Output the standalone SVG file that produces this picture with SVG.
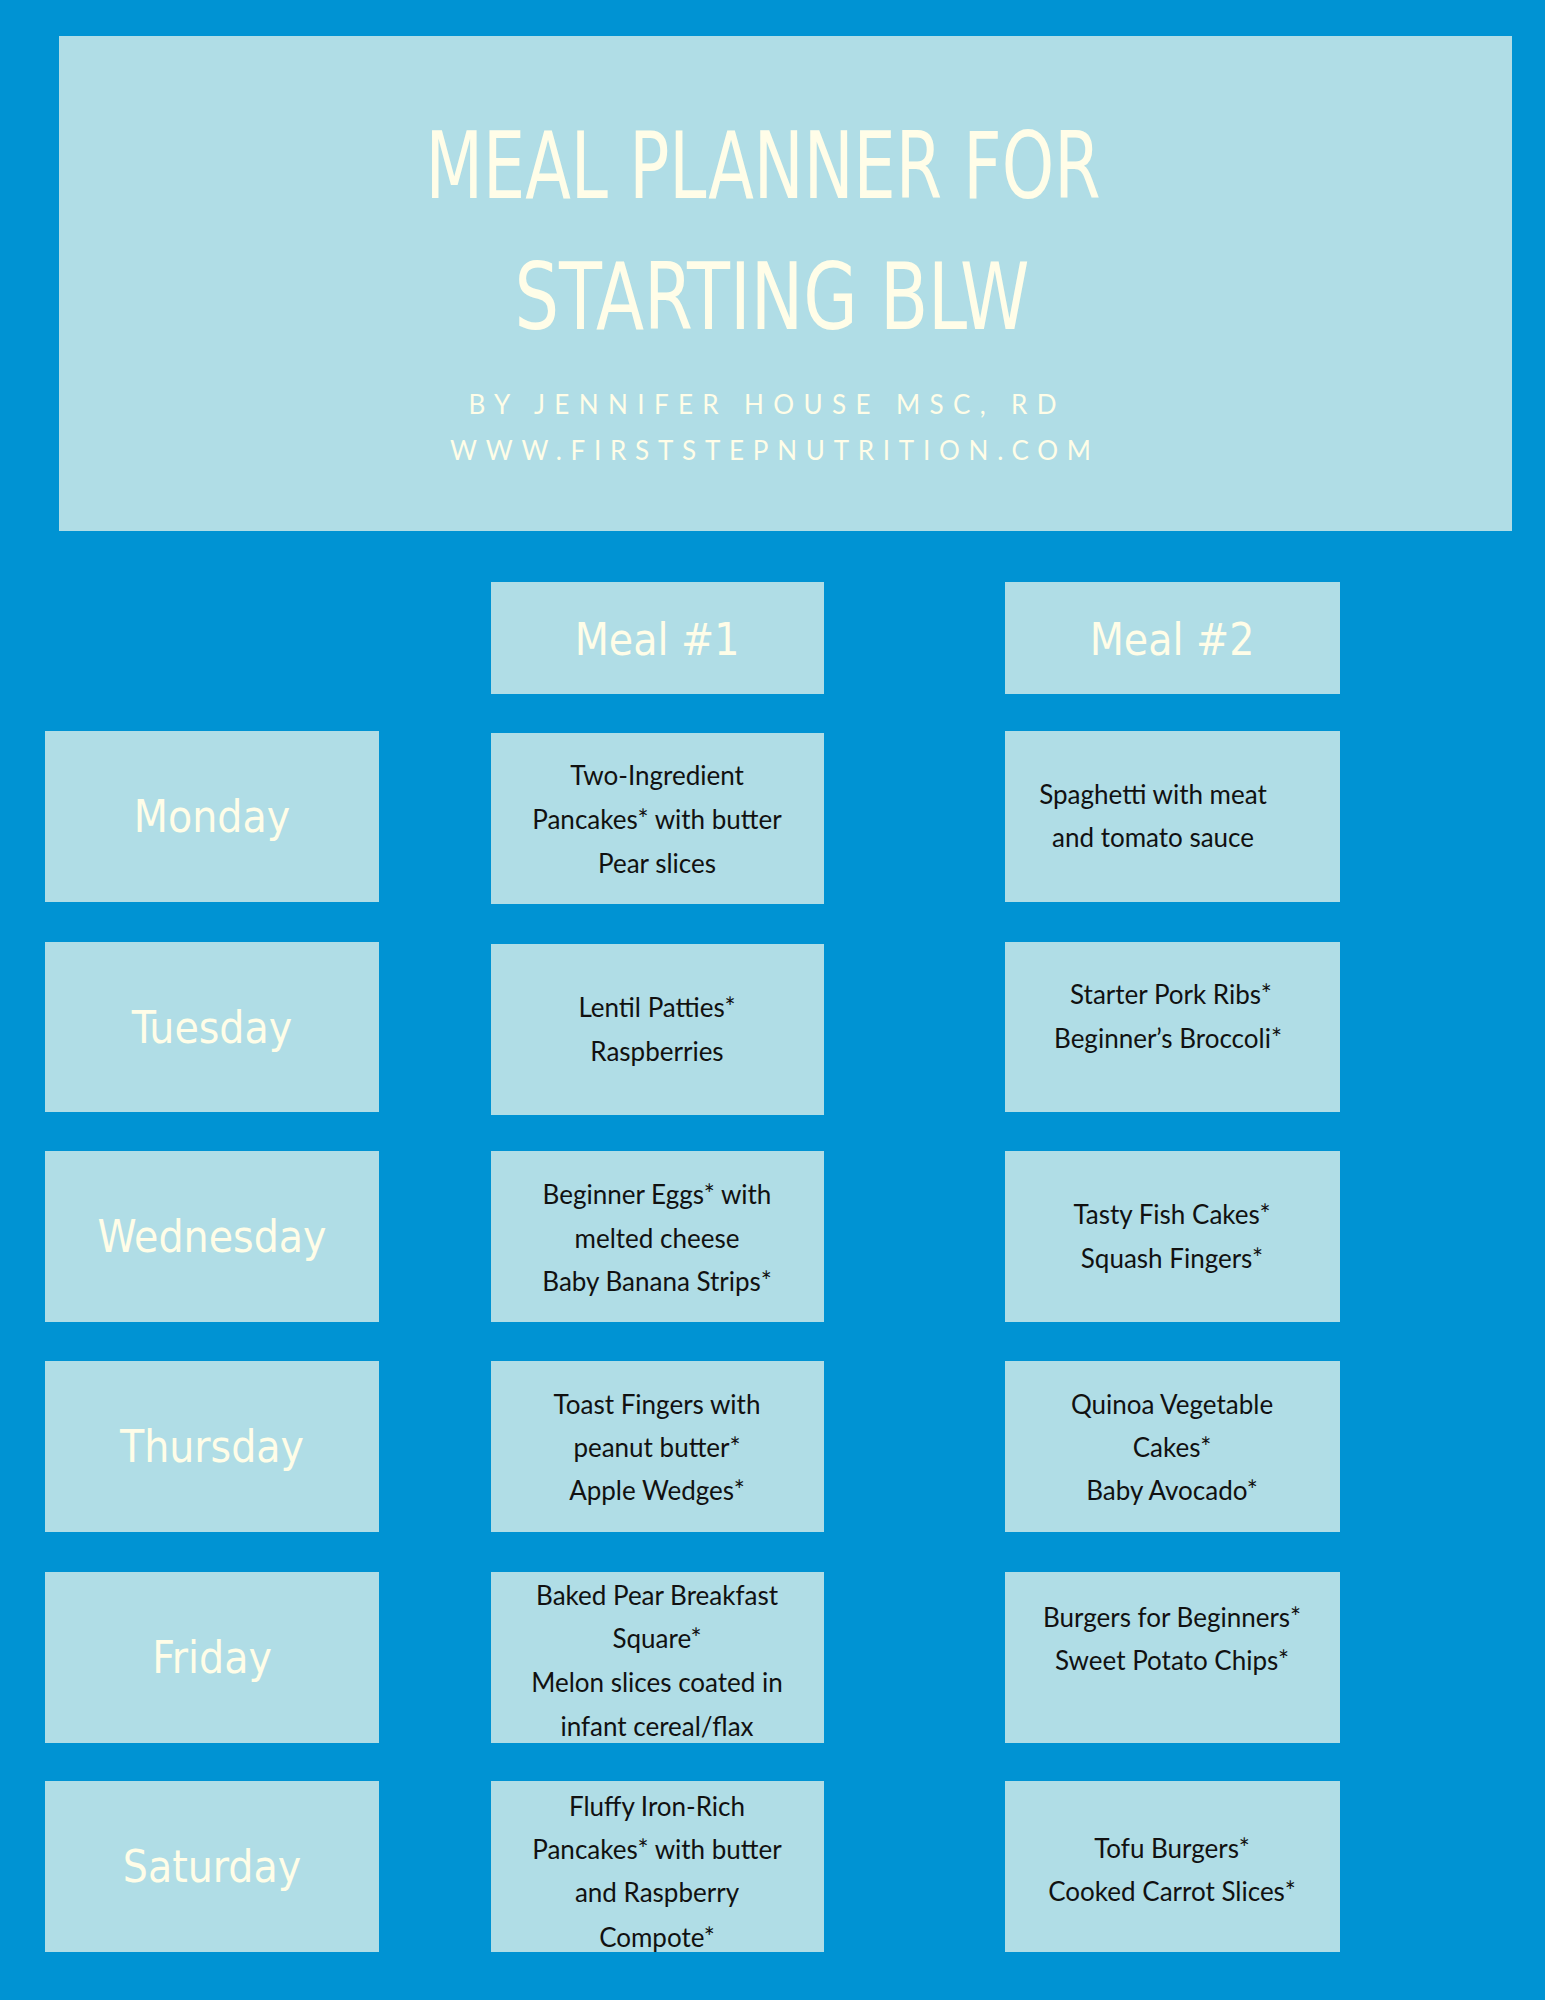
<svg xmlns="http://www.w3.org/2000/svg" width="1545" height="2000" viewBox="0 0 1545 2000">
<style>
.b{fill:#B0DDE6}
.h{font-family:"DejaVu Sans Condensed","DejaVu Sans",sans-serif;fill:#FFFDE8;text-anchor:middle}
.d{font-family:"DejaVu Sans Condensed","DejaVu Sans",sans-serif;fill:#FFFDE8;text-anchor:middle;font-size:44px}
.s{font-family:"Lato",sans-serif;fill:#FFFDE8;text-anchor:middle;font-size:26px;letter-spacing:9px}
.m{font-family:"Lato","Open Sans",sans-serif;fill:#111;text-anchor:middle;font-size:26px}
</style>
<rect width="1545" height="2000" fill="#0093D3"/>
<g id="header">
<rect class="b" x="59" y="36" width="1453" height="495"/>
<text class="h" x="763" y="198" font-size="92" textLength="675" lengthAdjust="spacingAndGlyphs">MEAL PLANNER FOR</text>
<text class="h" x="772" y="329" font-size="92" textLength="515" lengthAdjust="spacingAndGlyphs">STARTING BLW</text>
<text class="s" x="767" y="414" textLength="597">BY JENNIFER HOUSE MSC, RD</text>
<text class="s" x="775" y="460" textLength="650">WWW.FIRSTSTEPNUTRITION.COM</text>
</g>
<g id="meal1-head"><rect class="b" x="491" y="582" width="333" height="112"/><text class="d" x="657" y="655">Meal #1</text></g>
<g id="meal2-head"><rect class="b" x="1005" y="582" width="335" height="112"/><text class="d" x="1172" y="655">Meal #2</text></g>
<g id="days">
<g id="monday"><rect class="b" x="45" y="731" width="334" height="171"/><text class="d" x="212" y="832">Monday</text></g>
<g id="tuesday"><rect class="b" x="45" y="942" width="334" height="170"/><text class="d" x="212" y="1043">Tuesday</text></g>
<g id="wednesday"><rect class="b" x="45" y="1151" width="334" height="171"/><text class="d" x="212" y="1252">Wednesday</text></g>
<g id="thursday"><rect class="b" x="45" y="1361" width="334" height="171"/><text class="d" x="212" y="1462">Thursday</text></g>
<g id="friday"><rect class="b" x="45" y="1572" width="334" height="171"/><text class="d" x="212" y="1673">Friday</text></g>
<g id="saturday"><rect class="b" x="45" y="1781" width="334" height="171"/><text class="d" x="212" y="1882">Saturday</text></g>
</g>
<g id="meal1">
<g id="mon1"><rect class="b" x="491" y="733" width="333" height="171"/><text class="m" x="657" y="785">Two-Ingredient</text><text class="m" x="657" y="829">Pancakes* with butter</text><text class="m" x="657" y="873">Pear slices</text></g>
<g id="tue1"><rect class="b" x="491" y="944" width="333" height="171"/><text class="m" x="657" y="1017">Lentil Patties*</text><text class="m" x="657" y="1061">Raspberries</text></g>
<g id="wed1"><rect class="b" x="491" y="1151" width="333" height="171"/><text class="m" x="657" y="1204">Beginner Eggs* with</text><text class="m" x="657" y="1248">melted cheese</text><text class="m" x="657" y="1291">Baby Banana Strips*</text></g>
<g id="thu1"><rect class="b" x="491" y="1361" width="333" height="171"/><text class="m" x="657" y="1414">Toast Fingers with</text><text class="m" x="657" y="1457">peanut butter*</text><text class="m" x="657" y="1500">Apple Wedges*</text></g>
<g id="fri1"><rect class="b" x="491" y="1572" width="333" height="171"/><text class="m" x="657" y="1605">Baked Pear Breakfast</text><text class="m" x="657" y="1648">Square*</text><text class="m" x="657" y="1692">Melon slices coated in</text><text class="m" x="657" y="1736">infant cereal/flax</text></g>
<g id="sat1"><rect class="b" x="491" y="1781" width="333" height="171"/><text class="m" x="657" y="1816">Fluffy Iron-Rich</text><text class="m" x="657" y="1859">Pancakes* with butter</text><text class="m" x="657" y="1902">and Raspberry</text><text class="m" x="657" y="1947">Compote*</text></g>
</g>
<g id="meal2">
<g id="mon2"><rect class="b" x="1005" y="731" width="335" height="171"/><text class="m" x="1153" y="804">Spaghetti with meat</text><text class="m" x="1153" y="847">and tomato sauce</text></g>
<g id="tue2"><rect class="b" x="1005" y="942" width="335" height="170"/><text class="m" x="1171" y="1004">Starter Pork Ribs*</text><text class="m" x="1168" y="1048">Beginner’s Broccoli*</text></g>
<g id="wed2"><rect class="b" x="1005" y="1151" width="335" height="171"/><text class="m" x="1172" y="1224">Tasty Fish Cakes*</text><text class="m" x="1172" y="1268">Squash Fingers*</text></g>
<g id="thu2"><rect class="b" x="1005" y="1361" width="335" height="171"/><text class="m" x="1172" y="1414">Quinoa Vegetable</text><text class="m" x="1172" y="1457">Cakes*</text><text class="m" x="1172" y="1500">Baby Avocado*</text></g>
<g id="fri2"><rect class="b" x="1005" y="1572" width="335" height="171"/><text class="m" x="1172" y="1627">Burgers for Beginners*</text><text class="m" x="1172" y="1670">Sweet Potato Chips*</text></g>
<g id="sat2"><rect class="b" x="1005" y="1781" width="335" height="171"/><text class="m" x="1172" y="1858">Tofu Burgers*</text><text class="m" x="1172" y="1901">Cooked Carrot Slices*</text></g>
</g>
<g id="connectors"/>
</svg>
